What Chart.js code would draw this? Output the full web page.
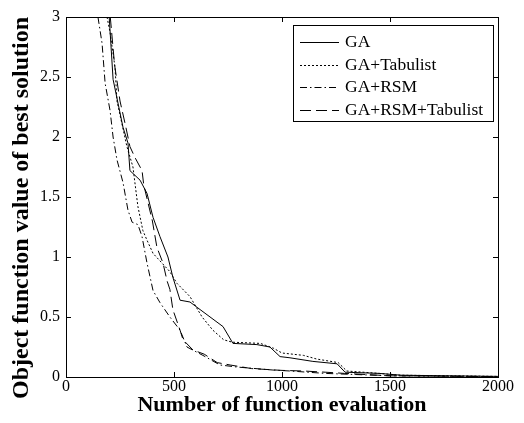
<!DOCTYPE html>
<html>
<head>
<meta charset="utf-8">
<script src="https://cdn.jsdelivr.net/npm/chart.js@4.4.1/dist/chart.umd.min.js"></script>
<style>
  html, body { margin: 0; padding: 0; background: #fff; }
  #wrap { width: 524px; height: 423px; }
</style>
</head>
<body>
<div id="wrap"><canvas id="chart" width="524" height="423"></canvas></div>
<script>
// values
const seriesLabels = ['GA', 'GA+Tabulist', 'GA+RSM', 'GA+RSM+Tabulist'];

const gaX = [200, 218, 264, 287, 296, 343, 375, 403, 435, 472, 495, 528, 574, 611, 727, 773, 884, 944, 991, 1037, 1143, 1255, 1292, 1450, 1550, 1750, 2000];
const gaY = [3.0, 2.48, 2.08, 1.95, 1.72, 1.64, 1.53, 1.33, 1.17, 1.0, 0.83, 0.64, 0.625, 0.575, 0.42, 0.28, 0.27, 0.25, 0.17, 0.16, 0.13, 0.11, 0.04, 0.03, 0.015, 0.01, 0.005];

const tabuX = [190, 204, 227, 236, 259, 282, 310, 319, 333, 356, 375, 403, 444, 480, 514, 574, 630, 680, 730, 770, 900, 960, 1000, 1100, 1160, 1260, 1300, 1450, 1550, 2000];
const tabuY = [3.0, 2.87, 2.58, 2.3, 2.11, 1.92, 1.75, 1.62, 1.42, 1.22, 1.14, 1.03, 0.95, 0.88, 0.78, 0.67, 0.5, 0.39, 0.31, 0.29, 0.28, 0.24, 0.2, 0.18, 0.15, 0.12, 0.05, 0.03, 0.015, 0.005];

const rsmX = [148, 167, 181, 204, 218, 236, 264, 287, 306, 333, 352, 375, 403, 435, 481, 528, 560, 634, 713, 792, 958, 1037, 1200, 1500, 2000];
const rsmY = [3.0, 2.78, 2.45, 2.22, 2.0, 1.81, 1.62, 1.39, 1.29, 1.27, 1.17, 0.95, 0.72, 0.62, 0.5, 0.39, 0.25, 0.18, 0.10, 0.083, 0.058, 0.05, 0.03, 0.01, 0.003];

const rsmTabuX = [205, 225, 250, 275, 296, 319, 352, 360, 380, 400, 421, 449, 468, 481, 495, 528, 542, 588, 640, 700, 760, 860, 1000, 1100, 1200, 1290, 1500, 2000];
const rsmTabuY = [3.0, 2.6, 2.3, 2.1, 1.92, 1.83, 1.72, 1.6, 1.45, 1.3, 1.08, 0.95, 0.8, 0.73, 0.56, 0.39, 0.31, 0.225, 0.19, 0.12, 0.1, 0.07, 0.055, 0.05, 0.04, 0.03, 0.01, 0.003];

const xTicks = [0, 500, 1000, 1500, 2000];
const yTicks = [0, 0.5, 1, 1.5, 2, 2.5, 3];

const xTitle = 'Number of function evaluation';
const yTitle = 'Object function value of best solution';

const dashes = [[], [2, 2], [7, 3, 1.5, 3], [11, 5]];

function points(xs, ys) {
    return xs.map((x, i) => ({ x: x, y: ys[i] }));
}

const allX = [gaX, tabuX, rsmX, rsmTabuX];
const allY = [gaY, tabuY, rsmY, rsmTabuY];

const datasets = seriesLabels.map((label, i) => ({
    label: label,
    data: points(allX[i], allY[i]),
    borderColor: '#000',
    borderWidth: 1,
    borderDash: dashes[i],
    pointRadius: 0,
    fill: false,
    tension: 0
}));

// matlab style box, inward ticks on all four sides
const boxPlugin = {
    id: 'box',
    afterDatasetsDraw(chart) {
        const { ctx, chartArea: a, scales } = chart;
        ctx.save();
        ctx.strokeStyle = '#000';
        ctx.lineWidth = 1;
        ctx.strokeRect(a.left + 0.5, a.top + 0.5, a.right - a.left, a.bottom - a.top);
        ctx.beginPath();
        xTicks.forEach(v => {
            const px = Math.round(scales.x.getPixelForValue(v)) + 0.5;
            ctx.moveTo(px, a.bottom); ctx.lineTo(px, a.bottom - 5);
            ctx.moveTo(px, a.top); ctx.lineTo(px, a.top + 5);
        });
        yTicks.forEach(v => {
            const py = Math.round(scales.y.getPixelForValue(v)) + 0.5;
            ctx.moveTo(a.left, py); ctx.lineTo(a.left + 5, py);
            ctx.moveTo(a.right, py); ctx.lineTo(a.right - 5, py);
        });
        ctx.stroke();
        ctx.restore();
    }
};

// rotated y title, sits a little below the plot centre like in the figure
const yTitlePlugin = {
    id: 'yTitle',
    afterDraw(chart) {
        const { ctx, chartArea: a } = chart;
        ctx.save();
        ctx.translate(22, (a.top + a.bottom) / 2 + 11);
        ctx.rotate(-Math.PI / 2);
        ctx.font = 'bold 24px "Liberation Serif"';
        ctx.fillStyle = '#000';
        ctx.textAlign = 'center';
        ctx.textBaseline = 'middle';
        ctx.fillText(yTitle, 0, 0);
        ctx.restore();
    }
};

// legend box in the upper right corner of the plot
const legendPlugin = {
    id: 'boxLegend',
    afterDraw(chart) {
        const { ctx, chartArea: a } = chart;
        const bx = a.right - 205, by = a.top + 8, bw = 200, bh = 96;
        ctx.save();
        ctx.fillStyle = '#fff';
        ctx.fillRect(bx, by, bw, bh);
        ctx.strokeStyle = '#000';
        ctx.lineWidth = 1;
        ctx.strokeRect(bx + 0.5, by + 0.5, bw, bh);
        ctx.font = '17.5px "Liberation Serif"';
        ctx.fillStyle = '#000';
        ctx.textBaseline = 'middle';
        chart.data.datasets.forEach((ds, i) => {
            const y = Math.round(by + 17 + i * 22.7) + 0.5;
            ctx.beginPath();
            ctx.setLineDash(ds.borderDash);
            ctx.moveTo(bx + 7, y);
            ctx.lineTo(bx + 46, y);
            ctx.stroke();
            ctx.setLineDash([]);
            ctx.fillText(ds.label, bx + 52, y);
        });
        ctx.restore();
    }
};

new Chart(document.getElementById('chart'), {
    type: 'line',
    data: { datasets: datasets },
    plugins: [boxPlugin, legendPlugin, yTitlePlugin],
    options: {
        responsive: false,
        animation: false,
        layout: { padding: { left: 0, right: 26, top: 17, bottom: 0 } },
        plugins: { legend: { display: false }, tooltip: { enabled: false } },
        scales: {
            x: {
                type: 'linear',
                min: 0,
                max: 2000,
                afterFit: s => { s.height = 46; },
                afterBuildTicks: s => { s.ticks = xTicks.map(v => ({ value: v })); },
                grid: { display: false, drawTicks: false },
                border: { display: false },
                ticks: {
                    padding: 0,
                    color: '#000',
                    font: { family: 'Liberation Serif', size: 16 },
                    callback: v => String(v)
                },
                title: {
                    display: true,
                    text: xTitle,
                    color: '#000',
                    font: { family: 'Liberation Serif', size: 22, weight: 'bold' },
                    padding: { top: 0, bottom: 4 }
                }
            },
            y: {
                type: 'linear',
                min: 0,
                max: 3,
                afterFit: s => { s.width = 66; },
                afterBuildTicks: s => { s.ticks = yTicks.map(v => ({ value: v })); },
                grid: { display: false, drawTicks: false },
                border: { display: false },
                ticks: {
                    padding: 6,
                    color: '#000',
                    font: { family: 'Liberation Serif', size: 16 },
                    callback: v => String(v)
                },
                title: { display: false }
            }
        }
    }
});
</script>
</body>
</html>
